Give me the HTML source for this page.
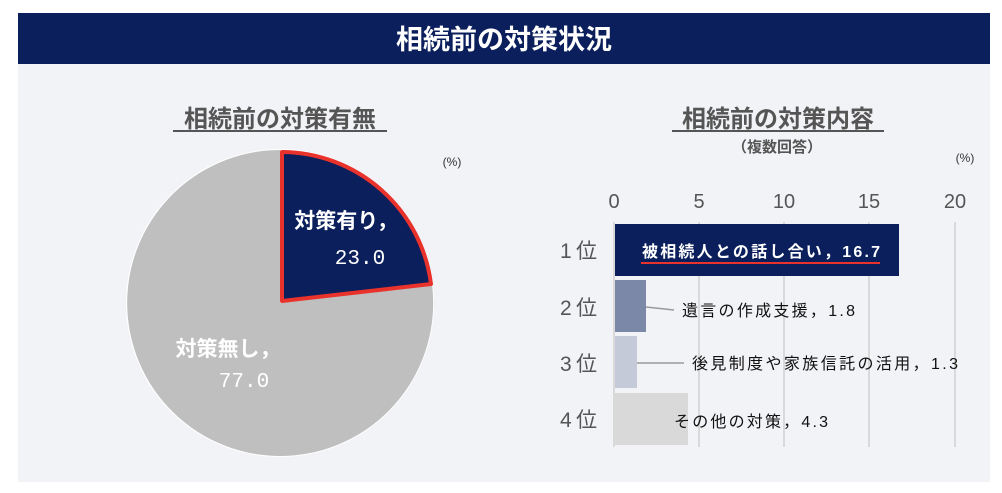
<!DOCTYPE html>
<html><head><meta charset="utf-8"><style>
body{margin:0;width:1002px;height:488px;background:#fff;overflow:hidden;font-family:"Liberation Sans","Noto Sans CJK JP",sans-serif}
</style></head><body>
<svg width="1002" height="488" xmlns="http://www.w3.org/2000/svg" font-family="Liberation Sans, Noto Sans CJK JP, sans-serif">
<rect x="18" y="64" width="972" height="418" fill="#f2f3f7"/>
<rect x="18" y="13" width="972" height="51" fill="#0b1f5c"/>
<text x="504" y="49" text-anchor="middle" font-size="27" font-weight="bold" fill="#fff">相続前の対策状況</text>
<text x="280" y="127" text-anchor="middle" font-size="24" font-weight="bold" fill="#555">相続前の対策有無</text>
<line x1="173" y1="131" x2="387" y2="131" stroke="#555" stroke-width="2"/>
<text x="452" y="166" text-anchor="middle" font-size="12" fill="#333">(%)</text>
<circle cx="280" cy="303" r="154" fill="#fff"/>
<path d="M280,303 L432,284 A153,153 0 1 1 280,150 Z" fill="#bfbfbf"/>
<path d="M282,301 L282,152 A151,151 0 0 1 431,284 Z" fill="#0b1f5c" stroke="#e8322b" stroke-width="4" stroke-linejoin="round"/>
<text x="346" y="228" text-anchor="middle" font-size="21" font-weight="bold" fill="#fff">対策有り，</text>
<text x="360" y="264" text-anchor="middle" font-size="21" fill="#fff" font-family="Liberation Mono, monospace">23.0</text>
<text x="228" y="356" text-anchor="middle" font-size="21" font-weight="bold" fill="#fff">対策無し，</text>
<text x="244" y="387" text-anchor="middle" font-size="21" fill="#fff" font-family="Liberation Mono, monospace">77.0</text>
<text x="778" y="127" text-anchor="middle" font-size="24" font-weight="bold" fill="#555">相続前の対策内容</text>
<line x1="672" y1="131" x2="884" y2="131" stroke="#555" stroke-width="2"/>
<text x="777" y="152" text-anchor="middle" font-size="15" font-weight="bold" fill="#555">（複数回答）</text>
<text x="965" y="162" text-anchor="middle" font-size="12" fill="#333">(%)</text>
<g stroke="#d9d9d9" stroke-width="2">
<line x1="614" y1="222" x2="614" y2="447"/><line x1="699" y1="222" x2="699" y2="447"/><line x1="784" y1="222" x2="784" y2="447"/><line x1="869" y1="222" x2="869" y2="447"/><line x1="955" y1="222" x2="955" y2="447"/>
</g>
<g font-size="20" fill="#555" text-anchor="middle">
<text x="614" y="208">0</text><text x="699" y="208">5</text><text x="784" y="208">10</text><text x="869" y="208">15</text><text x="955" y="208">20</text>
</g>
<rect x="615" y="224" width="284" height="52" fill="#0b1f5c"/>
<rect x="615" y="280" width="31" height="52" fill="#7b88a8"/>
<rect x="615" y="336" width="22" height="52" fill="#c5cad9"/>
<rect x="615" y="393" width="73" height="52" fill="#d9d9d9"/>
<g font-size="21" fill="#555">
<text x="560" y="258" textLength="37">1位</text><text x="560" y="315" textLength="37">2位</text><text x="560" y="371" textLength="37">3位</text><text x="560" y="427" textLength="37">4位</text>
</g>
<text x="642" y="257" font-size="16" font-weight="bold" fill="#fff" textLength="238">被相続人との話し合い，16.7</text>
<line x1="641" y1="263" x2="880" y2="263" stroke="#e8322b" stroke-width="2"/>
<line x1="646" y1="307" x2="674" y2="310" stroke="#999" stroke-width="1.5"/>
<text x="682" y="316" font-size="16" fill="#111" textLength="173">遺言の作成支援，1.8</text>
<line x1="637" y1="363" x2="684" y2="363" stroke="#999" stroke-width="1.5"/>
<text x="692" y="369" font-size="16" fill="#111" textLength="266">後見制度や家族信託の活用，1.3</text>
<text x="674" y="427" font-size="16" fill="#111" textLength="154">その他の対策，4.3</text>
</svg>
</body></html>
